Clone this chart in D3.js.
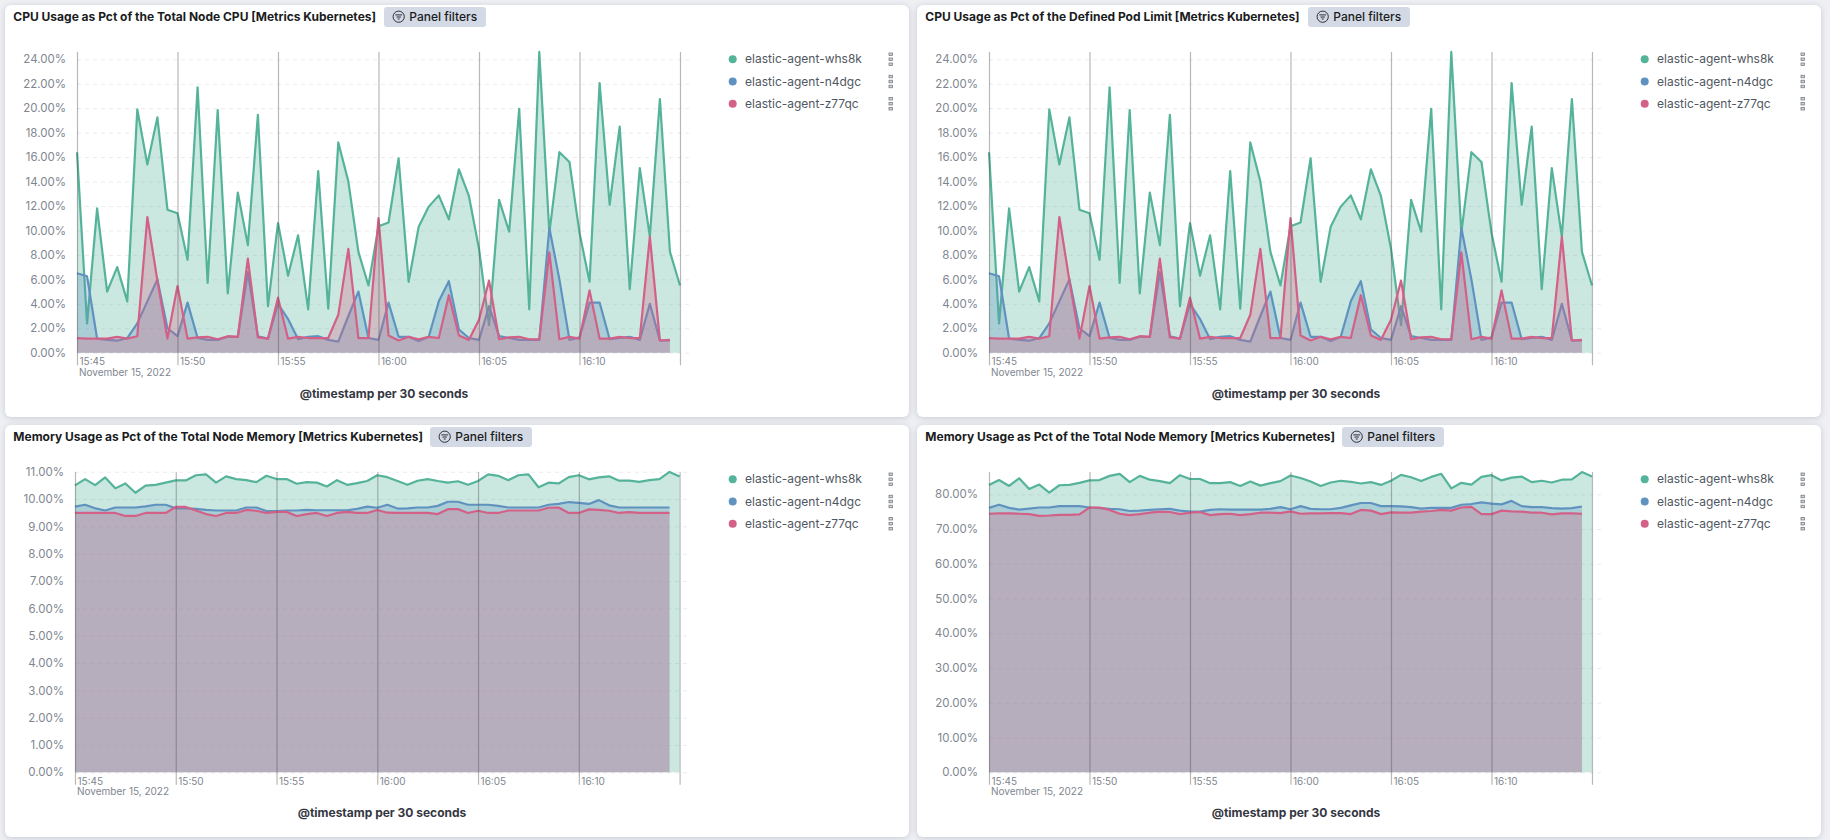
<!DOCTYPE html>
<html><head><meta charset="utf-8">
<script src="https://cdn.jsdelivr.net/npm/d3@7"></script>
<style>
html,body{margin:0;padding:0;background:#eef0f4;overflow:hidden}
svg{display:block}
text{font-family:Inter,sans-serif}
.panel{fill:#fff;filter:drop-shadow(0 1px 3px rgba(60,70,90,.22))}
</style></head><body>
<svg id="c" width="1830" height="840"></svg>
<script>
const seriesNames = ["elastic-agent-whs8k","elastic-agent-n4dgc","elastic-agent-z77qc"];
const seriesColors = ["#54B399","#6092C0","#D36086"];
const cpuWhs8k = [16.4,2.4,11.8,5.0,7.0,4.2,19.9,15.4,19.25,11.7,11.4,7.6,21.7,5.7,19.85,4.85,13.1,8.8,19.45,3.8,10.6,6.3,9.6,3.55,14.85,3.6,17.2,14.0,8.25,5.5,10.35,10.65,15.9,5.8,10.3,11.95,12.87,10.9,15.0,12.8,8.5,2.25,12.5,9.9,19.95,3.55,24.6,9.8,16.4,15.6,9.8,5.8,22.05,12.1,18.5,5.2,15.1,9.5,20.75,8.25,5.5];
const cpuN4dgc = [6.5,6.25,1.15,1.05,0.98,1.2,2.4,4.2,6.0,2.0,1.35,4.1,1.2,1.05,1.05,1.3,1.3,6.6,1.35,1.15,4.0,2.75,1.1,1.3,1.35,1.05,0.9,3.0,5.0,1.2,1.05,4.1,1.3,1.3,0.95,1.3,4.2,5.85,1.9,1.2,1.05,3.8,1.35,1.2,1.05,1.05,1.05,10.2,6.0,1.05,1.25,4.1,4.1,1.1,1.2,1.3,1.05,4.0,1.0,1.0];
const cpuZ77qc = [1.2,1.15,1.15,1.15,1.3,1.15,1.35,11.1,5.9,1.15,5.45,1.15,1.25,1.3,1.1,1.35,1.3,7.7,1.25,1.15,4.5,1.15,1.3,1.2,1.2,1.2,3.1,8.5,1.2,1.2,11.0,1.4,1.0,1.3,1.1,1.3,1.2,4.7,1.4,1.05,2.7,5.9,1.1,1.25,1.3,1.1,1.1,8.2,1.1,1.3,1.15,5.1,1.15,1.15,1.3,1.2,1.2,9.5,1.0,1.05];
const memNodeWhs8k = [10.5,10.73,10.51,10.79,10.39,10.57,10.23,10.49,10.52,10.6,10.68,10.68,10.87,10.9,10.6,10.83,10.73,10.69,10.62,10.85,10.73,10.73,10.56,10.62,10.6,10.46,10.69,10.52,10.58,10.66,10.87,10.8,10.66,10.52,10.67,10.73,10.66,10.6,10.65,10.52,10.66,10.9,10.85,10.69,10.87,10.9,10.43,10.6,10.57,10.8,10.87,10.72,10.79,10.83,10.67,10.67,10.63,10.69,10.73,10.99,10.82];
const memNodeN4dgc = [9.72,9.79,9.66,9.58,9.69,9.69,9.69,9.73,9.79,9.79,9.66,9.66,9.64,9.6,9.58,9.58,9.58,9.69,9.69,9.56,9.56,9.58,9.58,9.6,9.59,9.59,9.59,9.59,9.64,9.72,9.68,9.79,9.65,9.66,9.69,9.69,9.75,9.9,9.9,9.79,9.79,9.79,9.75,9.69,9.69,9.69,9.69,9.79,9.82,9.89,9.86,9.82,9.96,9.77,9.69,9.69,9.69,9.69,9.69,9.69];
const memNodeZ77qc = [9.49,9.49,9.49,9.49,9.49,9.38,9.38,9.49,9.49,9.49,9.71,9.71,9.58,9.45,9.38,9.49,9.49,9.6,9.57,9.49,9.53,9.53,9.38,9.45,9.49,9.38,9.49,9.53,9.49,9.49,9.6,9.5,9.49,9.49,9.49,9.49,9.45,9.63,9.63,9.49,9.57,9.49,9.49,9.58,9.58,9.58,9.58,9.68,9.69,9.49,9.49,9.62,9.6,9.57,9.49,9.52,9.49,9.49,9.49,9.49];
const memLimitWhs8k = [82.7,84.1,82.4,84.6,81.5,82.8,80.5,82.6,82.7,83.3,84.0,84.1,85.3,85.9,83.5,85.3,84.2,83.8,83.2,85.5,84.4,84.4,83.2,83.2,83.5,82.4,83.7,82.5,83.2,83.8,85.4,84.7,83.7,82.4,83.4,83.9,83.6,83.1,83.5,82.7,83.9,85.6,84.9,83.8,85.0,85.9,81.7,83.3,82.8,85.0,85.5,84.0,84.8,85.1,83.5,83.9,83.4,84.2,84.3,86.4,85.1];
const memLimitN4dgc = [76.1,77.0,76.1,75.6,75.9,76.2,76.2,76.6,76.6,76.6,76.2,76.0,75.8,75.7,75.2,75.3,75.5,75.7,75.8,75.3,75.0,75.0,75.5,75.7,75.6,75.6,75.6,75.6,75.8,76.3,75.7,76.6,75.8,75.7,75.7,76.1,76.8,77.5,77.5,76.6,76.6,76.5,76.3,75.9,76.1,76.1,76.1,77.0,77.2,77.7,77.3,77.1,78.1,76.6,76.3,76.3,76.0,75.9,76.0,76.5];
const memLimitZ77qc = [74.4,74.5,74.5,74.4,74.3,73.8,73.9,74.1,74.1,74.2,76.2,76.2,75.5,74.4,74.0,74.3,74.7,75.0,74.9,74.3,74.7,74.9,74.0,74.3,74.4,74.0,74.3,74.7,74.7,74.6,75.1,74.4,74.5,74.5,74.6,74.6,74.3,75.5,75.3,74.3,74.8,74.7,74.7,75.0,75.2,75.5,75.3,76.2,76.4,74.3,74.3,75.3,75.1,75.0,74.7,74.7,74.2,74.5,74.5,74.4];
const cpuTicks = [0,2,4,6,8,10,12,14,16,18,20,22,24];
const memNodeTicks = [0,1,2,3,4,5,6,7,8,9,10,11];
const memLimitTicks = [0,10,20,30,40,50,60,70,80];
const timeTickMinutes = [0,5,10,15,20,25,30];
const dateLabel = "November 15, 2022";
const axisTitle = "@timestamp per 30 seconds";
const filterLabel = "Panel filters";

const t0 = Date.UTC(2022,10,15,15,45);
const T = m => new Date(t0 + m*60000);
const times = n => d3.range(n).map(i => T(i*0.5));
const fmtTick = d3.utcFormat("%H:%M");

const charts = [
 {title:"CPU Usage as Pct of the Total Node CPU [Metrics Kubernetes]", data:[cpuWhs8k,cpuN4dgc,cpuZ77qc], ticks:cpuTicks, refV:24,
  px:5,py:5,pw:904,ph:412, x0:77,x1:680,gridEnd:689.5, top:52,y0:352.7,yRef:59.3, labelR:66, btnX:384,legX:732.7},
 {title:"CPU Usage as Pct of the Defined Pod Limit [Metrics Kubernetes]", data:[cpuWhs8k,cpuN4dgc,cpuZ77qc], ticks:cpuTicks, refV:24,
  px:917,py:5,pw:904,ph:412, x0:989,x1:1592,gridEnd:1601.5, top:52,y0:352.7,yRef:59.3, labelR:978, btnX:1308,legX:1644.7},
 {title:"Memory Usage as Pct of the Total Node Memory [Metrics Kubernetes]", data:[memNodeWhs8k,memNodeN4dgc,memNodeZ77qc], ticks:memNodeTicks, refV:11,
  px:5,py:425,pw:904,ph:412, x0:75,x1:679.6,gridEnd:688.5, top:472,y0:772.3,yRef:471.7, labelR:64, btnX:430,legX:732.7},
 {title:"Memory Usage as Pct of the Total Node Memory [Metrics Kubernetes]", data:[memLimitWhs8k,memLimitN4dgc,memLimitZ77qc], ticks:memLimitTicks, refV:80,
  px:917,py:425,pw:904,ph:412, x0:989,x1:1592,gridEnd:1601.5, top:472,y0:772.3,yRef:494.3, labelR:978, btnX:1342,legX:1644.7}
];

const svg = d3.select("#c");

charts.forEach(c => {
  const g = svg.append("g");
  g.append("rect").attr("class","panel").attr("x",c.px).attr("y",c.py).attr("width",c.pw).attr("height",c.ph).attr("rx",6);

  // header
  const ty = c.py;
  g.append("text").attr("x",c.px+8.3).attr("y",ty+16.2).attr("font-size",12).attr("font-weight",700).attr("fill","#1a1c21").text(c.title);
  g.append("rect").attr("x",c.btnX).attr("y",ty+2).attr("width",102).attr("height",20).attr("rx",3).attr("fill","#d3dae6");
  const ic = g.append("g").attr("transform",`translate(${c.btnX+14.7},${ty+11.7})`).attr("fill","none").attr("stroke","#1a1c21").attr("stroke-width",0.9);
  ic.append("circle").attr("r",5.6);
  ic.append("path").attr("d","M-3.4,-1.8H3.4M-2.2,0.3H2.2M-1,2.3H1");
  g.append("text").attr("x",c.btnX+25.3).attr("y",ty+16.2).attr("font-size",12).attr("font-weight",500).attr("fill","#1a1c21").text(filterLabel);

  // scales
  const x = d3.scaleUtc().domain([T(0),T(30)]).range([c.x0,c.x1]);
  const y = d3.scaleLinear().domain([0,c.refV]).range([c.y0,c.yRef]);

  // horizontal grid + y labels
  const yAxis = g.append("g").attr("transform",`translate(${c.x0},0)`)
    .call(d3.axisLeft(y).tickValues(c.ticks).tickFormat(d=>d3.format(".2f")(d)+"%").tickSizeOuter(0).tickSizeInner(0));
  yAxis.select(".domain").remove();
  yAxis.selectAll(".tick line").attr("x1",0).attr("x2",c.gridEnd-c.x0).attr("stroke","#e9ebef").attr("stroke-width",1).attr("stroke-dasharray","4 4");
  yAxis.selectAll(".tick text").attr("x",c.labelR-c.x0).attr("text-anchor","end").attr("font-family","Inter,sans-serif").attr("font-size",11.5).attr("fill","#808690");

  // series
  c.data.forEach((vals,i) => {
    const ts = times(vals.length);
    const pts = vals.map((v,k)=>[ts[k],v]);
    const area = d3.area().x(d=>x(d[0])).y0(y(0)).y1(d=>y(d[1]));
    const line = d3.line().x(d=>x(d[0])).y(d=>y(d[1]));
    g.append("path").datum(pts).attr("d",area).attr("fill",seriesColors[i]).attr("fill-opacity",0.3);
    g.append("path").datum(pts).attr("d",line).attr("fill","none").attr("stroke",seriesColors[i]).attr("stroke-width",2.2).attr("stroke-linejoin","round");
  });

  // time axis
  const xAxis = g.append("g").attr("transform",`translate(0,${c.y0})`)
    .call(d3.axisBottom(x).tickValues(timeTickMinutes.map(T)).tickFormat(d=>+d===+T(30)?"":fmtTick(d)).tickSizeOuter(0));
  xAxis.select(".domain").remove();
  xAxis.selectAll(".tick line").attr("y1",c.top-c.y0).attr("y2",12.5).attr("stroke","#555").attr("stroke-opacity",0.42).attr("stroke-width",1.2);
  xAxis.selectAll(".tick text").attr("x",2).attr("y",12.4).attr("dy",0).attr("text-anchor","start").attr("font-family","Inter,sans-serif").attr("font-size",10).attr("fill","#808690");
  g.append("text").attr("x",c.x0+2).attr("y",c.y0+22.8).attr("font-size",10).attr("fill","#808690").text(dateLabel);

  // axis title
  g.append("text").attr("x",c.x0+307).attr("y",c.y0+45).attr("text-anchor","middle").attr("font-size",12).attr("font-weight",700).attr("fill","#343741").text(axisTitle);

  // legend
  seriesNames.forEach((n,i)=>{
    const ly = c.py+54.3+i*22.2;
    g.append("circle").attr("cx",c.legX).attr("cy",ly).attr("r",4).attr("fill",seriesColors[i]);
    g.append("text").attr("x",c.legX+12.4).attr("y",ly+4).attr("font-size",12).attr("fill","#515761").text(n);
    [-5,0,5].forEach(o=>g.append("rect").attr("x",c.legX+156.3).attr("y",ly+o-1.3).attr("width",3.4).attr("height",2.6).attr("fill","#d0d2d6").attr("stroke","#6b7079").attr("stroke-width",0.7));
  });
});
</script>
</body></html>
